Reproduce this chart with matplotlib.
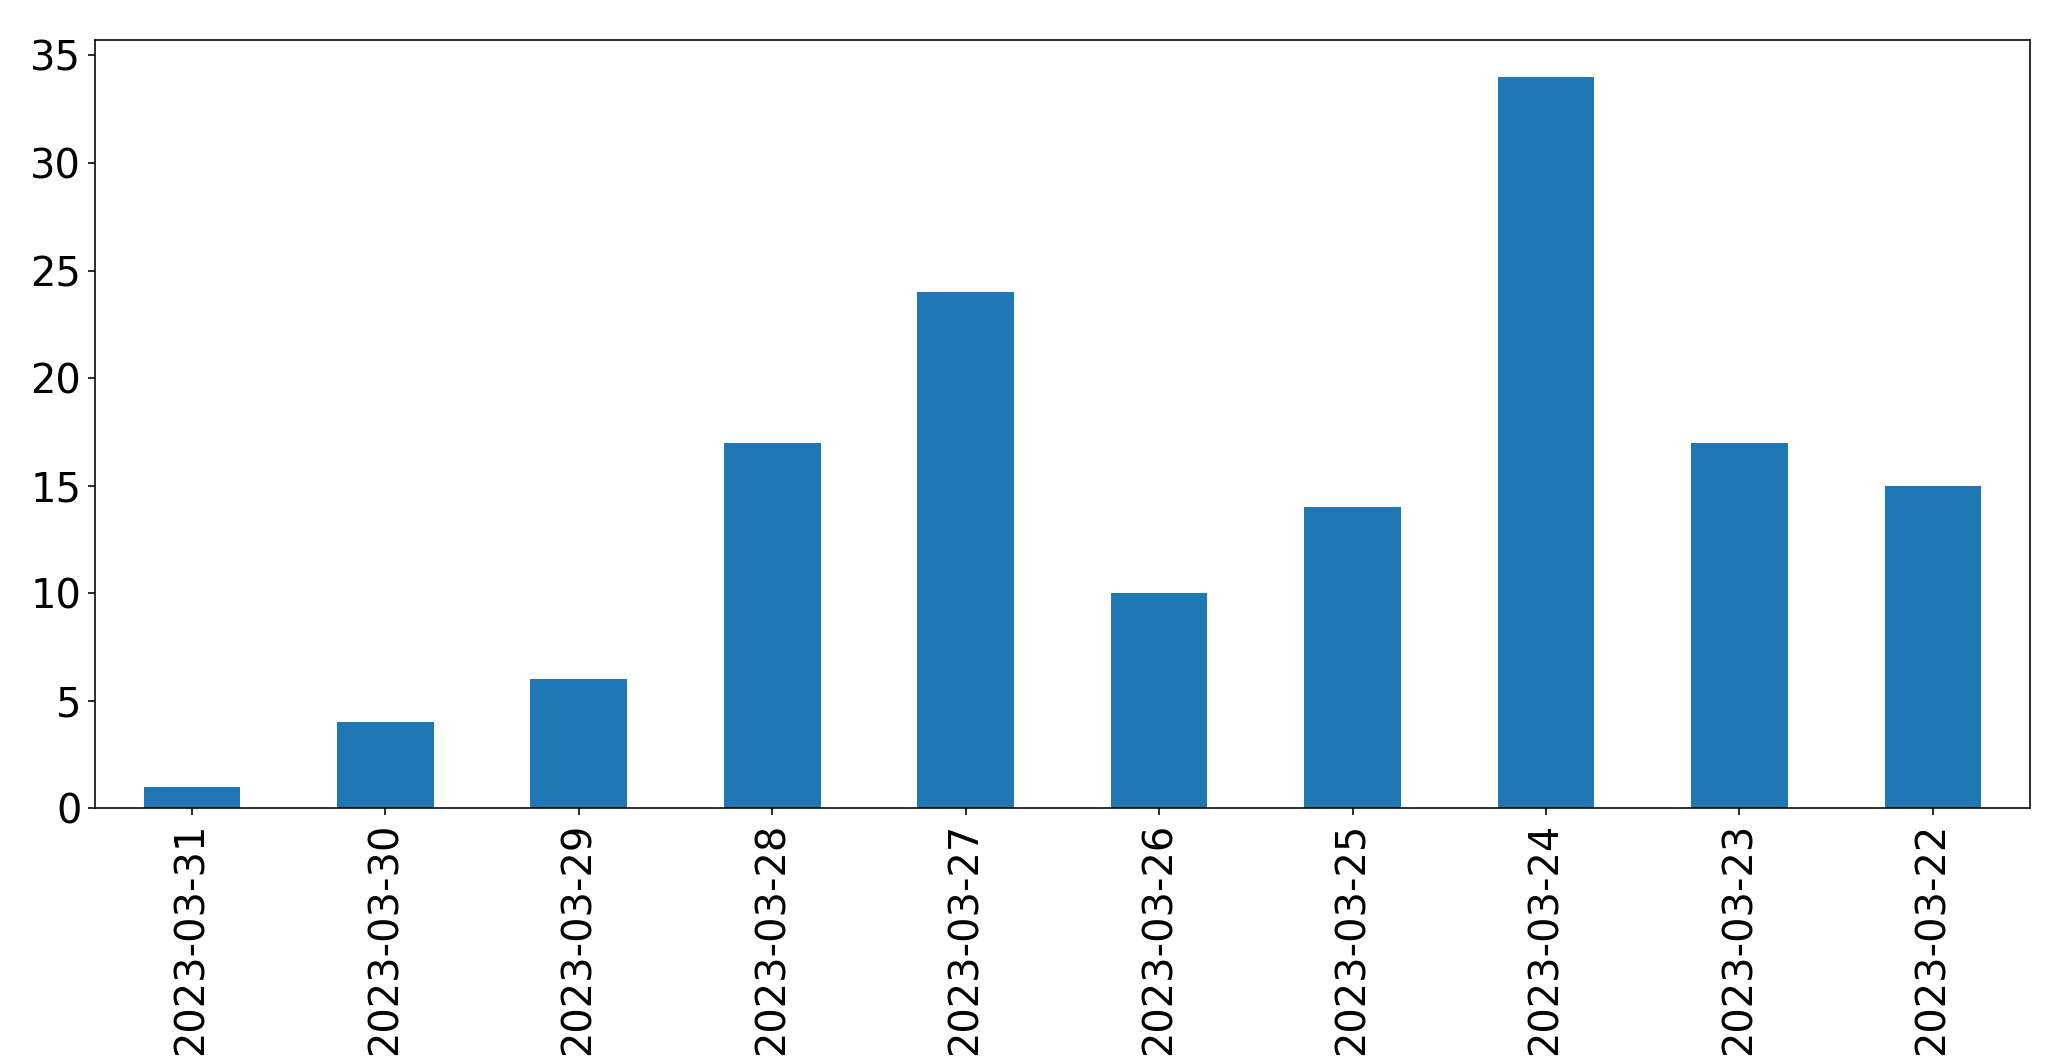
import matplotlib
matplotlib.use("Agg")
import matplotlib.pyplot as plt

dates = ["2023-03-31", "2023-03-30", "2023-03-29", "2023-03-28", "2023-03-27",
         "2023-03-26", "2023-03-25", "2023-03-24", "2023-03-23", "2023-03-22"]
counts = [1, 4, 6, 17, 24, 10, 14, 34, 17, 15]

fig = plt.figure(figsize=(2071/144, 1061/144), dpi=144)
ax = fig.add_axes([0.046, 0.238, 0.934, 0.724])
x = range(len(dates))
ax.bar(x, counts, width=0.5, color="#1f77b4")
ax.set_xlim(-0.5, len(dates) - 0.5)
ax.set_ylim(0, max(counts) * 1.05)
ax.set_xticks(list(x))
ax.set_xticklabels(dates, rotation=90, fontsize=20)
ax.tick_params(axis="y", labelsize=20)
fig.savefig("out.png", dpi=144)
